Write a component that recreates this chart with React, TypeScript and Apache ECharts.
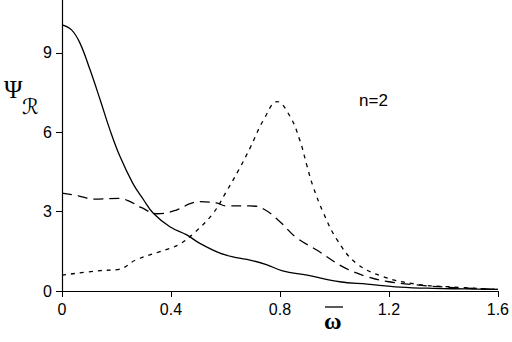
import React, { useEffect, useRef } from "react";
import * as echarts from "echarts";

const solidX = [0, 0.035, 0.066, 0.103, 0.14, 0.176, 0.213, 0.26, 0.3, 0.335, 0.396, 0.458, 0.506, 0.58, 0.64, 0.69, 0.75, 0.81, 0.9, 1.02, 1.12, 1.24, 1.36, 1.48, 1.6];
const solidY = [10.06, 9.87, 9.37, 8.36, 7.23, 6.09, 5.08, 4.07, 3.44, 2.94, 2.43, 2.12, 1.8, 1.43, 1.26, 1.17, 1.0, 0.76, 0.6, 0.35, 0.26, 0.15, 0.1, 0.08, 0.06];

const dashedX = [0, 0.06, 0.115, 0.21, 0.25, 0.29, 0.35, 0.42, 0.47, 0.506, 0.57, 0.6, 0.69, 0.74, 0.8, 0.86, 0.935, 1.03, 1.12, 1.2, 1.3, 1.42, 1.6];
const dashedY = [3.7, 3.6, 3.47, 3.5, 3.38, 3.16, 2.92, 3.06, 3.3, 3.38, 3.32, 3.22, 3.22, 3.1, 2.62, 2.02, 1.55, 0.92, 0.54, 0.35, 0.23, 0.14, 0.06];

const dottedX = [0, 0.14, 0.21, 0.27, 0.36, 0.43, 0.49, 0.555, 0.6, 0.65, 0.69, 0.74, 0.79, 0.837, 0.873, 0.9, 0.92, 0.96, 1.01, 1.08, 1.18, 1.3, 1.42, 1.6];
const dottedY = [0.6, 0.77, 0.82, 1.17, 1.49, 1.76, 2.24, 2.94, 3.7, 4.6, 5.4, 6.47, 7.16, 6.6, 5.7, 4.7, 4.0, 2.94, 1.93, 1.05, 0.54, 0.26, 0.16, 0.06];

const xTicks = [0, 0.4, 0.8, 1.2, 1.6];
const yTicks = [0, 3, 6, 9];

const pairs = (xs: number[], ys: number[]) => xs.map((x, i) => [x, ys[i]]);

export default function App() {
  const ref = useRef<HTMLDivElement>(null);
  useEffect(() => {
    if (!ref.current) return;
    const chart = echarts.init(ref.current, undefined, { renderer: "svg" });
    const lineBase = { type: "line", smooth: 0.4, showSymbol: false, symbol: "none" };
    chart.setOption({
      animation: false,
      backgroundColor: "#fff",
      grid: { left: 62, right: 14, top: 0, bottom: 51, containLabel: false },
      xAxis: {
        type: "value",
        min: 0,
        max: 1.6,
        interval: 0.4,
        splitLine: { show: false },
        axisLine: { lineStyle: { color: "#000", width: 1.2 } },
        axisTick: { show: true, length: 6, lineStyle: { color: "#000" }, customValues: xTicks },
        axisLabel: {
          color: "#000",
          fontSize: 16,
          fontFamily: "Liberation Sans, Arial, sans-serif",
          margin: 10,
          customValues: xTicks,
          formatter: (v: number) => (v === 0 ? "0" : String(Math.round(v * 10) / 10)),
        },
      },
      yAxis: {
        type: "value",
        min: 0,
        max: 11,
        splitLine: { show: false },
        axisLine: { show: true, lineStyle: { color: "#000", width: 1.2 } },
        axisTick: { show: true, length: 6, lineStyle: { color: "#000" }, customValues: yTicks },
        axisLabel: {
          color: "#000",
          fontSize: 16,
          fontFamily: "Liberation Sans, Arial, sans-serif",
          margin: 10,
          customValues: yTicks,
        },
      },
      graphic: [
        {
          type: "text",
          left: 359,
          top: 92,
          style: { text: "n=2", fontSize: 17, fontFamily: "Liberation Sans, Arial, sans-serif", fill: "#000" },
        },
        {
          type: "text",
          left: 4,
          top: 77,
          style: { text: "Ψ", fontSize: 25, fontFamily: "Liberation Serif, Times New Roman, serif", fill: "#000" },
        },
        {
          type: "text",
          left: 22,
          top: 96,
          style: { text: "ℛ", fontSize: 21, fontFamily: "DejaVu Sans, Noto Sans, serif", fill: "#000" },
        },
        {
          type: "line",
          shape: { x1: 325, y1: 307, x2: 343, y2: 307 },
          style: { stroke: "#000", lineWidth: 1.3 },
        },
        {
          type: "text",
          left: 324,
          top: 309,
          style: { text: "ω", fontSize: 24, fontWeight: "bold", fontFamily: "Liberation Serif, Times New Roman, serif", fill: "#000" },
        },
      ],
      series: [
        { ...lineBase, name: "solid", data: pairs(solidX, solidY), lineStyle: { color: "#000", width: 1.3, type: "solid" } },
        { ...lineBase, name: "dashed", data: pairs(dashedX, dashedY), lineStyle: { color: "#000", width: 1.3, type: [10, 6] } },
        { ...lineBase, name: "dotted", data: pairs(dottedX, dottedY), lineStyle: { color: "#000", width: 1.3, type: [4, 5] } },
      ],
    });
    return () => chart.dispose();
  }, []);
  return <div ref={ref} style={{ width: 512, height: 342, position: "absolute", left: 0, top: 0 }} />;
}
